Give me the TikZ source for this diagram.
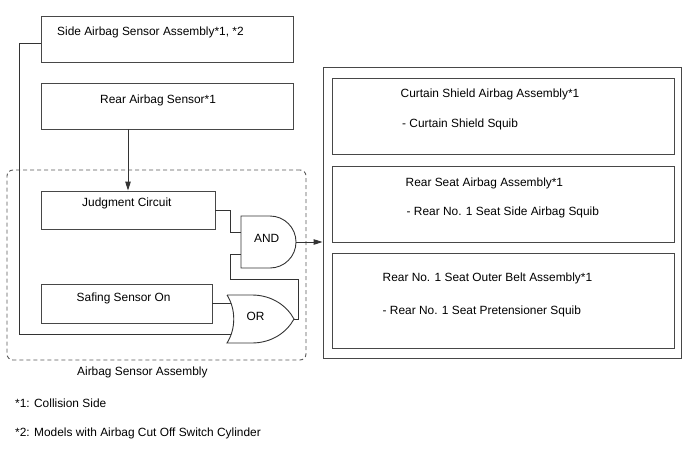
\documentclass[tikz,border=0pt]{standalone}
\usepackage{fontspec}
\setmainfont{Liberation Sans}
\usetikzlibrary{arrows.meta,calc}

\begin{document}
\begin{tikzpicture}[
  x=1pt, y=-1pt, >={Triangle[length=9pt,width=5.5pt]},
  font=\fontsize{11.9}{14}\selectfont,
  box/.style={draw=black!72, line width=0.9pt, inner sep=0pt},
  txt/.style={anchor=base west, inner sep=0pt},
  wire/.style={draw=black!80, line width=0.9pt},
  gate/.style={draw=black!80, line width=0.9pt},
]
\useasboundingbox (0,0) rectangle (688,463);

% sensors
\node[box, minimum width=252pt, minimum height=46pt] (side) at (167,39) {};
\node[box, minimum width=252pt, minimum height=46pt] (rear) at (167,106) {};
\node[txt] (sidetxt) at (57,35) {Side Airbag Sensor Assembly*1, *2};
\node[txt] (reartxt) at (100,103.3) {Rear Airbag Sensor*1};

% airbag sensor assembly
\node[draw=black!65, line width=0.9pt, dash pattern=on 4pt off 3pt, rounded corners=6pt,
      minimum width=299pt, minimum height=190pt, inner sep=0pt] (asm) at (156.5,265) {};
\node[txt] (asmtxt) at (77,375) {Airbag Sensor Assembly};
\node[box, minimum width=174pt, minimum height=38pt] (jc) at (128,210) {};
\node[box, minimum width=171pt, minimum height=39pt] (safing) at (126.5,303.5) {};
\node[txt] (jctxt) at (82,206.7) {Judgment Circuit};
\node[txt] (safingtxt) at (76.5,301) {Safing Sensor On};

% gates
\draw[gate] (241,216) -- (270,216) arc[start angle=-90, end angle=90, radius=26] -- (241,268) -- cycle;
\draw[gate] (227,295) -- (252,295) .. controls (272,295) and (287,306) .. (294,319)
            .. controls (287,332) and (272,343) .. (252,343) -- (227,343)
            .. controls (236,329) and (236,309) .. (227,295);
\node[txt] (andtxt) at (254,242) {AND};
\node[txt] (ortxt) at (246.5,320) {OR};
\coordinate (and-in1) at (241,232);
\coordinate (and-in2) at (241,254);
\coordinate (and-out) at (296,242);
\coordinate (or-in1) at (230.5,303.5);
\coordinate (or-in2) at (230.5,334);
\coordinate (or-out) at (294,319);

% squibs
\node[box, minimum width=358pt, minimum height=291pt] (squibs) at (502,212.5) {};
\node[box, minimum width=342pt, minimum height=76pt] (curtain) at (503,116) {};
\node[box, minimum width=342pt, minimum height=76pt] (seat) at (503,204) {};
\node[box, minimum width=342pt, minimum height=95pt] (belt) at (503,300.5) {};
\node[txt] (curtaintxt) at (400.5,97.7) {Curtain Shield Airbag Assembly*1};
\node[txt] (curtainsq) at (402,127.3) {- Curtain Shield Squib};
\node[txt] (seattxt) at (405.5,186) {Rear Seat Airbag Assembly*1};
\node[txt] (seatsq) at (406.5,215.7) {- Rear No. 1 Seat Side Airbag Squib};
\node[txt] (belttxt) at (382.5,281.7) {Rear No. 1 Seat Outer Belt Assembly*1};
\node[txt] (beltsq) at (382.5,314.3) {- Rear No. 1 Seat Pretensioner Squib};

% notes
\node[txt] (note1) at (15,407.7) {*1: Collision Side};
\node[txt] (note2) at (15,436.7) {*2: Models with Airbag Cut Off Switch Cylinder};

\draw[wire, ->] (jc.north |- rear.south) -- (jc.north);
\draw[wire] (jc.east) -- ++(15,0) |- (and-in1);
\draw[wire] (or-out) -- ++(4,0) |- (230,279) |- (and-in2);
\draw[wire] (safing.east) -- (or-in1);
\draw[wire] ([yshift=-4pt]side.west) -- ++(-21,0) |- (or-in2);
\draw[wire, ->] (and-out) -- (squibs.west |- and-out);
\end{tikzpicture}
\end{document}
